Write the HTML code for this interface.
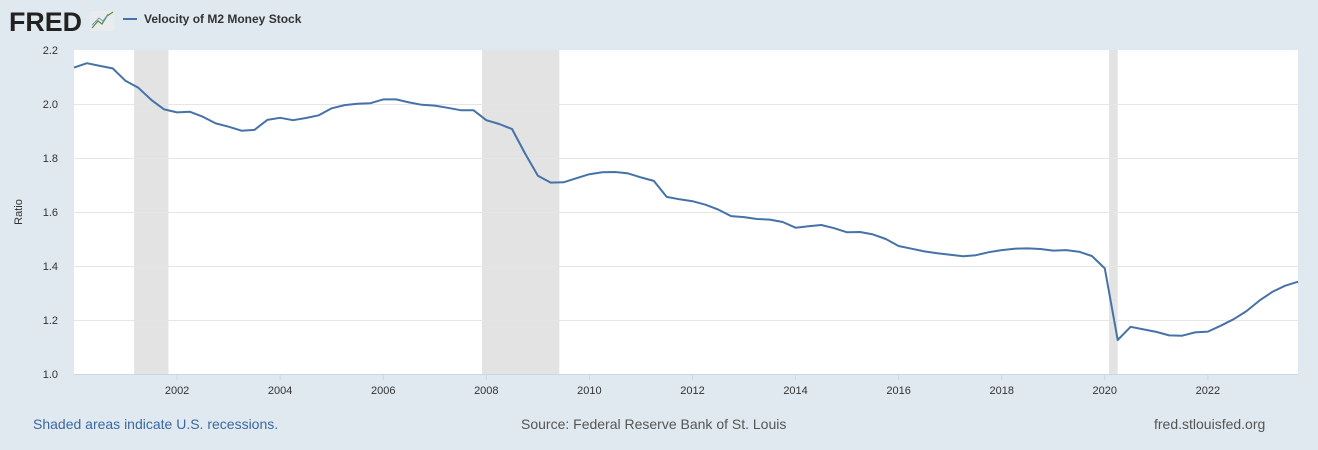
<!DOCTYPE html>
<html><head><meta charset="utf-8"><style>
html,body{margin:0;padding:0;background:#e1e9f0;}
body{width:1318px;height:450px;overflow:hidden;position:relative;font-family:"Liberation Sans",sans-serif;}
.ft{position:absolute;top:416px;font-size:14px;}
</style></head><body>
<svg id="chart" width="1318" height="450" style="position:absolute;left:0;top:0" xmlns="http://www.w3.org/2000/svg">
<g>
<text x="9" y="31" font-family="Liberation Sans" font-weight="bold" font-size="27" fill="#222" textLength="73" lengthAdjust="spacingAndGlyphs">FRED</text>
<rect x="90" y="11" width="24" height="20" fill="#e8ecef" rx="2"/>
<polyline points="92,28 98,21 102,24 107,16 113,12" fill="none" stroke="#5a8a3a" stroke-width="1.2"/>
<polyline points="92,25 99,18 103,21 108,14" fill="none" stroke="#7a9abb" stroke-width="1"/>
</g>
<line x1="123" y1="19" x2="137" y2="19" stroke="#4572a7" stroke-width="2"/>
<text x="144" y="23" font-size="12" font-weight="bold" fill="#333">Velocity of M2 Money Stock</text>
<rect x="74" y="50" width="1224" height="324" fill="#fff"/>
<g id="rec"></g><g id="grid"></g><g id="xt"></g><g id="yt"></g>
<line x1="74" y1="374.5" x2="1298" y2="374.5" stroke="#ccd6eb"/>
<path id="series" fill="none" stroke="#4572a7" stroke-width="2" stroke-linejoin="round"/>
<text transform="translate(22,212) rotate(-90)" text-anchor="middle" font-size="11" fill="#333">Ratio</text>
</svg>
<div class="ft" style="left:33px;color:#3a68a0">Shaded areas indicate U.S. recessions.</div>
<div class="ft" style="left:521px;color:#555">Source: Federal Reserve Bank of St. Louis</div>
<div class="ft" style="left:1154px;color:#555">fred.stlouisfed.org</div>
<script>
const startYear = 2000;
const values = [2.135,2.151,2.141,2.132,2.086,2.060,2.015,1.980,1.969,1.971,1.953,1.928,1.916,1.901,1.904,1.941,1.949,1.940,1.948,1.958,1.984,1.996,2.001,2.003,2.017,2.017,2.006,1.997,1.994,1.986,1.977,1.977,1.940,
1.926,1.907,1.817,1.734,1.709,1.710,1.725,1.740,1.747,1.748,1.743,1.728,1.715,1.656,1.647,1.640,1.627,1.609,1.585,1.581,1.574,1.572,1.563,1.542,1.547,1.552,1.540,1.525,1.526,1.517,1.500,
1.474,1.464,1.454,1.447,1.442,1.436,1.440,1.451,1.459,1.464,1.465,1.463,1.457,1.459,1.453,1.437,1.391,1.126,
1.175,1.165,1.156,1.143,1.142,1.154,1.157,1.179,1.203,1.233,1.272,1.304,1.327,1.342];
const yTicks = [1.0,1.2,1.4,1.6,1.8,2.0,2.2];
const xTicks = [2002,2004,2006,2008,2010,2012,2014,2016,2018,2020,2022];
const recStart = [2001.167,2007.917,2020.083];
const recEnd = [2001.833,2009.417,2020.25];
const NS="http://www.w3.org/2000/svg";
const X=t=>74+(t-2000)*51.54;
const Y=v=>374-(v-1)*270;
function mk(tag,attrs,parent){const e=document.createElementNS(NS,tag);for(const k in attrs)e.setAttribute(k,attrs[k]);document.getElementById(parent).appendChild(e);return e;}
recStart.forEach((s,i)=>{const r=mk('rect',{x:X(s),y:50,width:X(recEnd[i])-X(s),height:324,fill:'#e3e3e3'},'rec');

});
yTicks.forEach(v=>{if(v>1.0&&v<2.2){const l=mk('line',{x1:74,x2:1298,y1:Y(v)+0.5,y2:Y(v)+0.5,stroke:'#e6e6e6'},'grid');

}
const t=mk('text',{x:58,y:Y(v)+4,'text-anchor':'end','font-size':11,fill:'#333'},'yt');t.textContent=v.toFixed(1);

});
xTicks.forEach(y=>{const l=mk('line',{x1:X(y),x2:X(y),y1:374,y2:380,stroke:'#ccd6eb'},'xt');


const t=mk('text',{x:X(y),y:394,'text-anchor':'middle','font-size':11,fill:'#333'},'xt');t.textContent=y;

});
document.getElementById('series').setAttribute('d',values.map((v,i)=>(i?'L':'M')+X(startYear+i*0.25).toFixed(1)+','+Y(v).toFixed(1)).join(''));
</script>
</body></html>
